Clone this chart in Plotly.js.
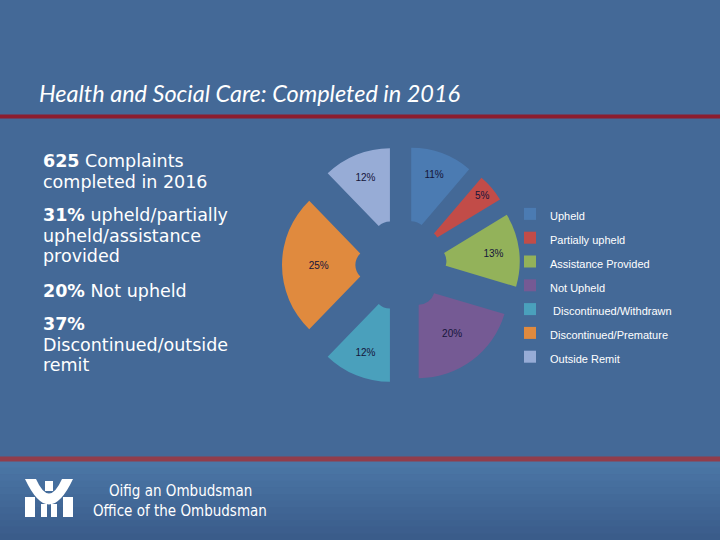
<!DOCTYPE html>
<html><head><meta charset="utf-8">
<script src="https://cdn.plot.ly/plotly-3.0.1.min.js"></script>
<style>html,body{margin:0;padding:0;background:#446997;}#chart{width:720px;height:540px;}</style>
</head><body><div id="chart"></div>
<script>
// ---- data ----
const categories = ['Upheld', 'Partially upheld', 'Assistance Provided', 'Not Upheld', ' Discontinued/Withdrawn', 'Discontinued/Premature', 'Outside Remit'];
const percentValues = [11, 5, 13, 20, 12, 25, 12];
const sliceColors = ['#4b7bb2', '#c24c48', '#93b25a', '#755a94', '#4aa0bc', '#e08a3e', '#97acd6'];
const chartTitle = 'Health and Social Care: Completed in 2016';
const summaryParagraphs = [
  ['<b>625</b> Complaints', 'completed in 2016'],
  ['<b>31%</b> upheld/partially', 'upheld/assistance', 'provided'],
  ['<b>20%</b> Not upheld'],
  ['<b>37%</b>', 'Discontinued/outside', 'remit']
];
const footerLines = ['Oifig an Ombudsman', 'Office of the Ombudsman'];

// ---- helpers (pixel -> paper) ----
const W = 720, H = 540;
const X = px => px / W;
const Y = py => 1 - py / H;
const BG = '#446997';

const legendLabels = categories.map(c => '<span style="font-size:11px">' + c + '</span>');

const trace = {
  type: 'pie',
  labels: legendLabels,
  values: percentValues,
  text: percentValues.map(v => v + '%'),
  texttemplate: '%{text}',
  textinfo: 'text',
  textposition: 'inside',
  insidetextorientation: 'horizontal',
  insidetextfont: {family: 'Liberation Sans', size: 10, color: '#15153a'},
  marker: {colors: sliceColors, line: {width: 0}},
  sort: false,
  direction: 'clockwise',
  rotation: 0,
  hole: 0.18,
  pull: 0.33,
  domain: {x: [X(401 - 119), X(401 + 119)], y: [Y(265 + 119), Y(265 - 119)]},
  hoverinfo: 'none'
};

const shapes = [];
// top red rule
shapes.push({type: 'rect', xref: 'paper', yref: 'paper', x0: 0, x1: 1, y0: Y(118.5), y1: Y(114.5), fillcolor: '#8d1d2e', line: {width: 0}, layer: 'below'});
// footer gradient bands
const footTop = 461, footBot = 540;
const c1 = [75, 118, 166], c2 = [58, 92, 138];
const nb = 12;
for (let i = 0; i < nb; i++) {
  const t = i / (nb - 1);
  const c = c1.map((v, k) => Math.round(v + (c2[k] - v) * t));
  const y0 = footTop + (footBot - footTop) * i / nb;
  const y1 = footTop + (footBot - footTop) * (i + 1) / nb;
  shapes.push({type: 'rect', xref: 'paper', yref: 'paper', x0: 0, x1: 1, y0: Y(y1 + 0.5), y1: Y(y0), fillcolor: 'rgb(' + c.join(',') + ')', line: {width: 0}, layer: 'below'});
}
// bottom red rule
shapes.push({type: 'rect', xref: 'paper', yref: 'paper', x0: 0, x1: 1, y0: Y(461.5), y1: Y(456.5), fillcolor: '#913d4b', line: {width: 0}, layer: 'below'});
// logo
const P = (x, y) => X(x).toFixed(5) + ',' + Y(y).toFixed(5);
shapes.push({type: 'path', xref: 'paper', yref: 'paper',
  path: 'M' + P(25, 479) + ' Q' + P(49, 530) + ' ' + P(73, 479) + ' L' + P(62, 479) + ' Q' + P(49, 508) + ' ' + P(36, 479) + ' Z',
  fillcolor: '#ffffff', line: {width: 0}});
const rects = [[45, 481, 53, 491], [25, 497, 35, 517], [41, 504, 47, 517], [51, 504, 57, 517], [63, 497, 73, 517]];
rects.forEach(r => shapes.push({type: 'rect', xref: 'paper', yref: 'paper', x0: X(r[0]), x1: X(r[2]), y0: Y(r[3]), y1: Y(r[1]), fillcolor: '#ffffff', line: {width: 0}}));

const annotations = [];
annotations.push({xref: 'paper', yref: 'paper', x: X(37), y: Y(93), xanchor: 'left', yanchor: 'middle', showarrow: false,
  text: chartTitle, font: {family: 'Lato', size: 23.5, color: '#ffffff', style: 'italic'}});
// left summary: paragraph line pitch ~20.5px
const leftSize = 17.5, pitch = 20.6;
const firstBaselines = [167, 221, 297, 330];
summaryParagraphs.forEach((lines, i) => {
  const b1 = firstBaselines[i], bn = b1 + pitch * (lines.length - 1);
  annotations.push({xref: 'paper', yref: 'paper', x: X(41), y: Y((b1 + bn) / 2 - 0.346 * leftSize), xanchor: 'left', yanchor: 'middle', align: 'left', showarrow: false,
    text: lines.map(l => '<span style="font-size:' + leftSize + 'px">' + l + '</span>').join('<br>'),
    font: {family: 'DejaVu Sans', size: pitch / 1.3, color: '#ffffff'}});
});
const footerBaselines = [497, 517];
footerLines.forEach((t, i) => annotations.push({xref: 'paper', yref: 'paper', x: X(180), y: Y(footerBaselines[i] - 0.39 * 15), xanchor: 'center', yanchor: 'middle', align: 'center', showarrow: false,
  text: t, font: {family: 'DejaVu Sans Condensed', size: 15, color: '#ffffff'}}));

const layout = {
  width: W, height: H,
  margin: {l: 0, r: 0, t: 0, b: 0, pad: 0},
  paper_bgcolor: BG, plot_bgcolor: BG,
  showlegend: true,
  legend: {x: X(510), y: Y(197), xanchor: 'left', yanchor: 'top', bgcolor: 'rgba(0,0,0,0)', borderwidth: 0,
    font: {family: 'Liberation Sans', size: 16, color: '#ffffff'}, itemclick: false, itemdoubleclick: false},
  uniformtext: {minsize: 10, mode: 'show'},
  shapes: shapes,
  annotations: annotations
};

Plotly.newPlot('chart', [trace], layout, {displayModeBar: false, staticPlot: true});
</script>
</body></html>
